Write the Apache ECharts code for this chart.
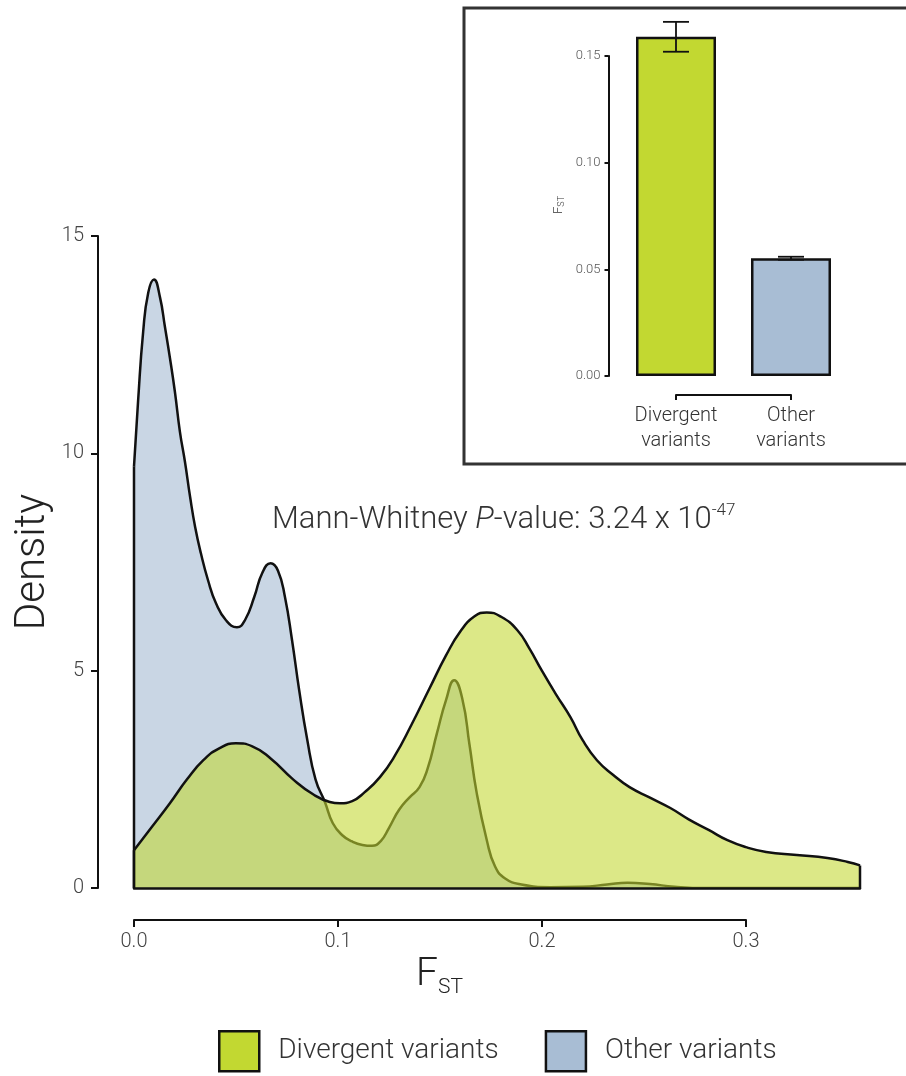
<!DOCTYPE html>
<html>
<head>
<meta charset="utf-8">
<script src="https://cdn.jsdelivr.net/npm/echarts@6/dist/echarts.min.js"></script>
<style>
  html, body { margin: 0; padding: 0; background: #fff; }
  #chart { width: 906px; height: 1076px; }
</style>
</head>
<body>
<div id="chart"></div>
<script>
// density curves (x = FST, y = density)
var otherX = [0, 0.002, 0.0045, 0.007, 0.0098, 0.0127, 0.0152, 0.0176, 0.0201, 0.0225, 0.025, 0.0275, 0.030,
  0.0328, 0.0363, 0.0402, 0.0451, 0.0505, 0.0544, 0.059, 0.063, 0.067, 0.0706, 0.074, 0.0775, 0.081, 0.085,
  0.089, 0.0936, 0.0975, 0.102, 0.107, 0.112, 0.1167, 0.121, 0.125, 0.130, 0.135, 0.140, 0.144, 0.1485,
  0.153, 0.157, 0.161, 0.1645, 0.168, 0.173, 0.177, 0.182, 0.190, 0.204, 0.220, 0.232, 0.242, 0.253,
  0.265, 0.280, 0.356];
var otherY = [9.7, 11.2, 12.8, 13.7, 14.0, 13.6, 12.9, 12.2, 11.4, 10.5, 9.8, 9.0, 8.3,
  7.7, 7.08, 6.55, 6.16, 6.0, 6.16, 6.7, 7.26, 7.47, 7.3, 6.7, 5.7, 4.55, 3.4,
  2.5, 1.98, 1.49, 1.22, 1.07, 0.99, 0.97, 1.08, 1.38, 1.80, 2.08, 2.32, 2.75, 3.55,
  4.32, 4.78, 4.35, 3.3, 2.2, 1.1, 0.5, 0.22, 0.08, 0.02, 0.03, 0.08, 0.12, 0.09,
  0.03, 0, 0];

var divX = [0, 0.009, 0.0176, 0.026, 0.034, 0.042, 0.050, 0.058, 0.067, 0.078, 0.088, 0.096, 0.101, 0.107,
  0.113, 0.1206, 0.128, 0.136, 0.145, 0.153, 0.160, 0.167, 0.173, 0.180, 0.188, 0.194, 0.200, 0.207,
  0.214, 0.220, 0.227, 0.235, 0.243, 0.253, 0.263, 0.272, 0.282, 0.291, 0.300, 0.310, 0.325, 0.340,
  0.350, 0.356];
var divY = [0.87, 1.42, 1.95, 2.5, 2.94, 3.22, 3.33, 3.26, 2.98, 2.5, 2.15, 1.98, 1.95, 2.0,
  2.2, 2.55, 3.05, 3.75, 4.6, 5.35, 5.9, 6.25, 6.34, 6.24, 5.93, 5.5, 5.0, 4.45,
  3.93, 3.4, 2.94, 2.6, 2.32, 2.08, 1.84, 1.58, 1.33, 1.1, 0.94, 0.83, 0.76, 0.69,
  0.6, 0.52];

// inset bar chart
var barNames = ['Divergent variants', 'Other variants'];
var barLabels = ['Divergent\nvariants', 'Other\nvariants'];
var barValues = [0.159, 0.0552];
var errLow = [0.152, 0.0545];
var errHigh = [0.166, 0.0559];

var green = '#c2d831';
var blue = '#a8bdd4';
var ink = '#111';
var font = 'Roboto, "Liberation Sans", Arial, sans-serif';

function pairs (xs, ys) {
  return xs.map(function (x, i) { return [x, ys[i]] })
}
var xEnd = divX[divX.length - 1];

var myChart = echarts.init(document.getElementById('chart'));

myChart.setOption({
  animation: false,
  backgroundColor: '#fff',
  textStyle: { fontFamily: font },
  title: [
    {
      text: '{a|Mann-Whitney }{i|P}{a|-value: 3.24 x 10}{s|-47}',
      left: 272,
      top: 502,
      padding: 0,
      textStyle: {
        rich: {
          a: { fontSize: 31, fontWeight: 300, color: '#333', fontFamily: font, lineHeight: 36 },
          i: { fontSize: 31, fontWeight: 300, fontStyle: 'italic', color: '#333', fontFamily: font, lineHeight: 36 },
          s: { fontSize: 17, fontWeight: 300, color: '#333', fontFamily: font, lineHeight: 20, verticalAlign: 'top' }
        }
      }
    },
    {
      text: '{f|F}{s|ST}',
      left: 416,
      top: 952,
      padding: 0,
      textStyle: {
        rich: {
          f: { fontSize: 39, fontWeight: 300, color: '#222', fontFamily: font, lineHeight: 46 },
          s: { fontSize: 21, fontWeight: 300, color: '#222', fontFamily: font, lineHeight: 14, verticalAlign: 'bottom' }
        }
      }
    }
  ],
  legend: {
    left: 218,
    top: 1030,
    padding: 0,
    icon: 'rect',
    itemWidth: 40,
    itemHeight: 40,
    itemGap: 46,
    textStyle: { fontSize: 28, fontWeight: 300, color: '#333', fontFamily: font, padding: [0, 0, 0, 14] },
    data: [
      { name: barNames[0], itemStyle: { color: green, borderColor: ink, borderWidth: 2.5 } },
      { name: barNames[1], itemStyle: { color: blue, borderColor: ink, borderWidth: 2.5 } }
    ]
  },
  graphic: [
    {
      type: 'rect',
      shape: { x: 464, y: 8, width: 470, height: 456 },
      style: { fill: 'none', stroke: '#333', lineWidth: 3 }
    }
  ],
  grid: [
    { left: 134, top: 236, width: 726, height: 652 },
    { left: 134, top: 888, width: 612, height: 32 },
    { left: 618.5, top: 56, width: 230, height: 320 },
    { left: 676, top: 376, width: 115, height: 19 }
  ],
  xAxis: [
    {
      gridIndex: 0, type: 'value', min: 0, max: xEnd, z: 5,
      axisLine: { show: true, onZero: false, lineStyle: { color: ink, width: 2.5 } },
      axisTick: { show: false }, axisLabel: { show: false }, splitLine: { show: false }
    },
    {
      gridIndex: 1, type: 'value', min: 0, max: 0.3, interval: 0.1,
      axisLine: { onZero: false, lineStyle: { color: ink, width: 2 } },
      axisTick: { length: 7, lineStyle: { color: ink, width: 2 } },
      axisLabel: { margin: 12, fontSize: 20, fontWeight: 300, color: '#444', formatter: function (v) { return v.toFixed(1) } },
      splitLine: { show: false }
    },
    { gridIndex: 2, type: 'category', data: barNames, show: false },
    {
      gridIndex: 3, type: 'value', min: 0, max: 1, interval: 1,
      axisLine: { onZero: false, lineStyle: { color: ink, width: 2 } },
      axisTick: { length: 5, lineStyle: { color: ink, width: 2 } },
      axisLabel: {
        margin: 8, fontSize: 20, fontWeight: 300, lineHeight: 25, color: '#333',
        formatter: function (v) { return barLabels[v] }
      },
      splitLine: { show: false }
    }
  ],
  yAxis: [
    {
      gridIndex: 0, type: 'value', min: 0, max: 15, interval: 5, offset: 36,
      name: 'Density', nameLocation: 'middle', nameGap: 44, nameMoveOverlap: false,
      nameTextStyle: { fontSize: 42, fontWeight: 300, color: '#222', fontFamily: font },
      axisLine: { show: true, onZero: false, lineStyle: { color: ink, width: 2 } },
      axisTick: { show: true, length: 7, lineStyle: { color: ink, width: 2 } },
      axisLabel: { margin: 14, fontSize: 20, fontWeight: 300, color: '#444' },
      splitLine: { show: false }
    },
    { gridIndex: 1, type: 'value', show: false, min: 0, max: 1 },
    {
      gridIndex: 2, type: 'value', min: 0, max: 0.15, interval: 0.05, offset: 10,
      name: '{f|F}{s|ST}', nameLocation: 'middle', nameGap: 42,
      nameTextStyle: {
        padding: [0, 0, 0, 22],
        rich: {
          f: { fontSize: 13, fontWeight: 300, color: '#333', fontFamily: font, lineHeight: 15 },
          s: { fontSize: 9, fontWeight: 300, color: '#333', fontFamily: font, lineHeight: 8, verticalAlign: 'bottom' }
        }
      },
      axisLine: { show: true, onZero: false, lineStyle: { color: ink, width: 2 } },
      axisTick: { show: true, length: 4, lineStyle: { color: ink, width: 2 } },
      axisLabel: { margin: 8, fontSize: 13, fontWeight: 300, color: '#555', formatter: function (v) { return v.toFixed(2) } },
      splitLine: { show: false }
    },
    { gridIndex: 3, type: 'value', show: false, min: 0, max: 1 }
  ],
  series: [
    {
      name: barNames[1], type: 'line', xAxisIndex: 0, yAxisIndex: 0, z: 2,
      data: pairs(otherX, otherY), smooth: 0.5, symbol: 'none',
      itemStyle: { color: blue },
      lineStyle: { color: ink, width: 2.5 },
      areaStyle: { color: 'rgba(168, 189, 212, 0.62)', opacity: 1 }
    },
    {
      type: 'line', xAxisIndex: 0, yAxisIndex: 0, z: 2, symbol: 'none',
      data: [[otherX[0], 0], [otherX[0], otherY[0]]],
      lineStyle: { color: ink, width: 2.5 }
    },
    {
      name: barNames[0], type: 'line', xAxisIndex: 0, yAxisIndex: 0, z: 3,
      data: pairs(divX, divY), smooth: 0.5, symbol: 'none',
      itemStyle: { color: green },
      lineStyle: { color: ink, width: 2.5 },
      areaStyle: { color: 'rgba(194, 216, 49, 0.58)', opacity: 1 }
    },
    {
      type: 'line', xAxisIndex: 0, yAxisIndex: 0, z: 3, symbol: 'none',
      data: [[divX[0], 0], [divX[0], divY[0]]],
      lineStyle: { color: ink, width: 2.5 }
    },
    {
      type: 'line', xAxisIndex: 0, yAxisIndex: 0, z: 3, symbol: 'none',
      data: [[xEnd, 0], [xEnd, divY[divY.length - 1]]],
      lineStyle: { color: ink, width: 2.5 }
    },
    {
      type: 'bar', xAxisIndex: 2, yAxisIndex: 2, barWidth: 80, clip: false,
      data: barValues.map(function (v, i) {
        return { value: v, itemStyle: { color: i === 0 ? green : blue, borderColor: ink, borderWidth: 2.5 } }
      })
    },
    {
      type: 'custom', xAxisIndex: 2, yAxisIndex: 2, clip: false, z: 5,
      data: barValues.map(function (v, i) { return [i, errLow[i], errHigh[i]] }),
      encode: { x: 0, y: [1, 2] },
      renderItem: function (params, api) {
        var i = api.value(0);
        var top = api.coord([i, api.value(2)]);
        var bot = api.coord([i, api.value(1)]);
        var half = 13;
        var style = { stroke: ink, lineWidth: 1.8 };
        return {
          type: 'group',
          children: [
            { type: 'line', shape: { x1: top[0], y1: top[1], x2: bot[0], y2: bot[1] }, style: style },
            { type: 'line', shape: { x1: top[0] - half, y1: top[1], x2: top[0] + half, y2: top[1] }, style: style },
            { type: 'line', shape: { x1: bot[0] - half, y1: bot[1], x2: bot[0] + half, y2: bot[1] }, style: style }
          ]
        }
      }
    }
  ]
});
</script>
</body>
</html>
